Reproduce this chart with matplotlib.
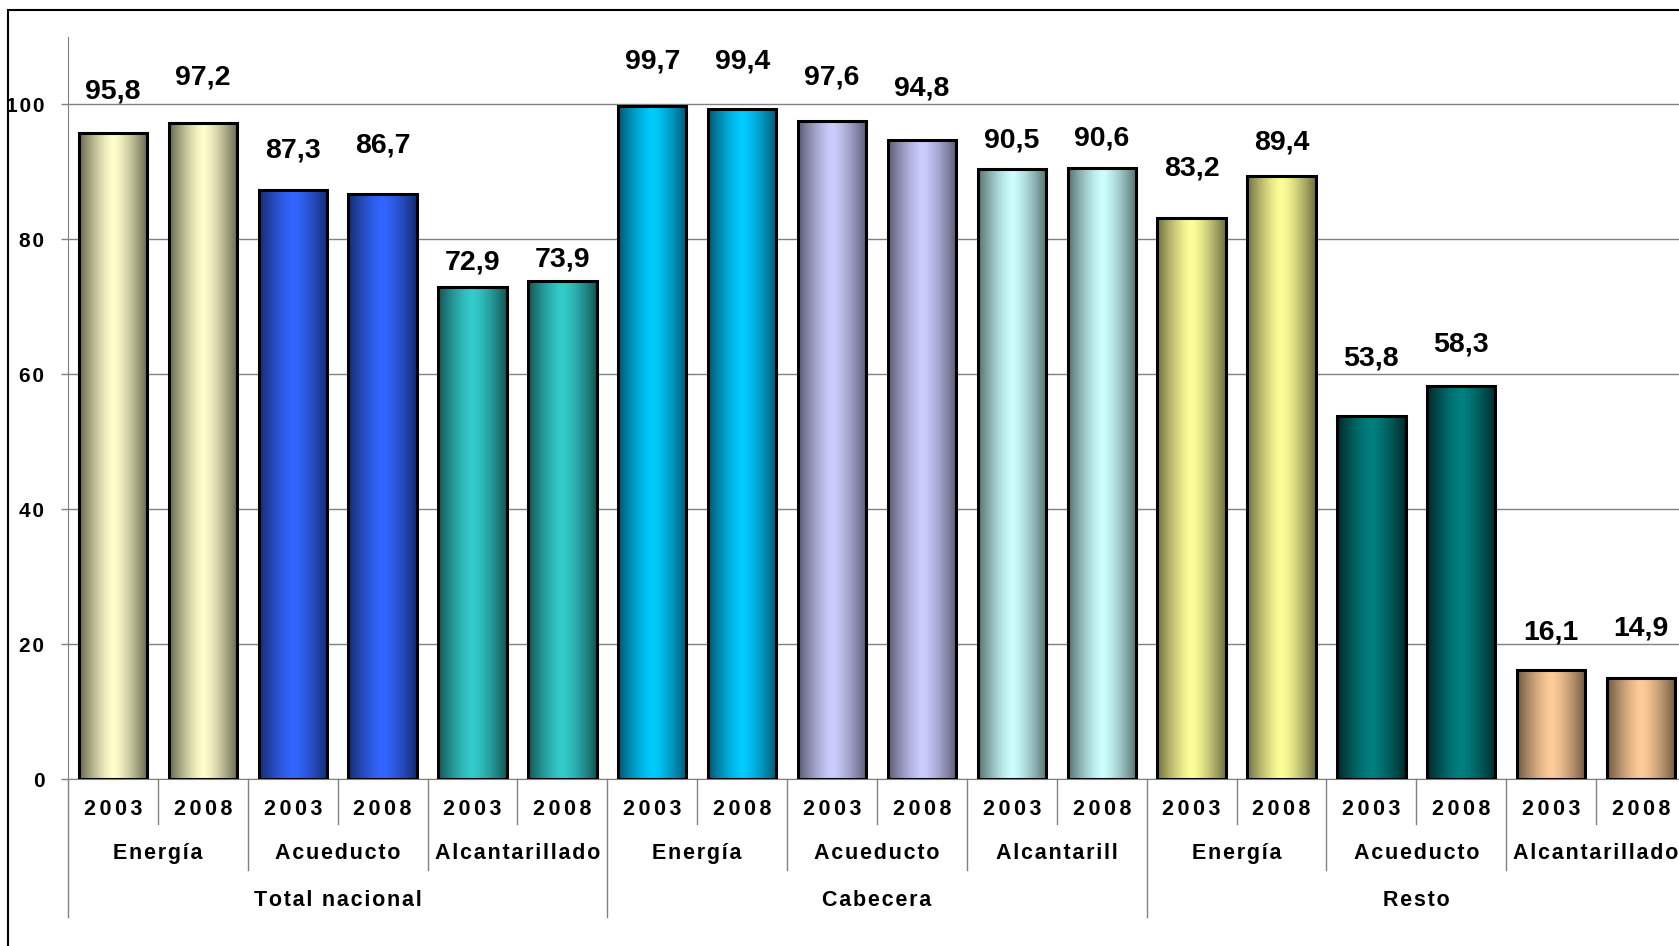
import numpy as np
import matplotlib
matplotlib.use('Agg')
import matplotlib.pyplot as plt
from matplotlib.colors import to_rgb
from matplotlib.patches import Rectangle
from matplotlib.transforms import blended_transform_factory

# datos
grupos = ['Total nacional', 'Cabecera', 'Resto']
servicios = ['Energía', 'Acueducto', 'Alcantarillado',
             'Energía', 'Acueducto', 'Alcantarill',
             'Energía', 'Acueducto', 'Alcantarillado']
anios = ['2003', '2008']
valores_2003 = [95.8, 87.3, 72.9, 99.7, 97.6, 90.5, 83.2, 53.8, 16.1]
valores_2008 = [97.2, 86.7, 73.9, 99.4, 94.8, 90.6, 89.4, 58.3, 14.9]

# estilo: color central / color de borde de cada servicio
colores = [('#FFFFCC', '#66664F'), ('#3366FF', '#142B70'), ('#33CCCC', '#155555'),
           ('#00CCFF', '#005570'), ('#CCCCFF', '#5A5A72'), ('#CCFFFF', '#577070'),
           ('#FFFF99', '#6E6E40'), ('#008080', '#002828'), ('#FFCC99', '#6E5840')]
# desplazamiento de las etiquetas sobre la barra (pixeles)
desfase = [41, 46, 40, 49, 25, 21, 45, 47, 43, 51, 28, 29, 49, 33, 58, 41, 38, 50]

plt.rcParams['font.family'] = ['Liberation Sans', 'DejaVu Sans']
plt.rcParams['font.weight'] = 'bold'

HAIR = '\u200a'


def espaciar(s, sep=HAIR):
    return sep.join(s)


W, H = 1679, 946
fig = plt.figure(figsize=(W / 100, H / 100), dpi=100)
ax = fig.add_axes([68 / W, 1 - 779 / H, 1618 / W, (779 - 37) / H])

valores = []
for v3, v8 in zip(valores_2003, valores_2008):
    valores += [v3, v8]
x = np.arange(len(valores))

bars = ax.bar(x, valores, width=0.76, facecolor='none', edgecolor='black',
              linewidth=2.2, zorder=3)

# relleno degradado tipo cilindro
u = np.linspace(0, 1, 128)
mezcla = np.clip(np.abs(u - 0.5) * 2, 0, 1) ** 1.4
for i, b in enumerate(bars):
    c1 = np.array(to_rgb(colores[i // 2][0]))
    c2 = np.array(to_rgb(colores[i // 2][1]))
    img = (c1[None, :] * (1 - mezcla[:, None]) + c2[None, :] * mezcla[:, None])[None, :, :]
    ax.imshow(img, extent=[b.get_x(), b.get_x() + b.get_width(), 0, b.get_height()],
              aspect='auto', zorder=2, interpolation='bilinear')

for b, v, off in zip(bars, valores, desfase):
    ax.annotate(f'{v:.1f}'.replace('.', ','),
                xy=(b.get_x() + b.get_width() / 2, b.get_height()),
                xytext=(0, off), textcoords='offset pixels',
                ha='center', va='center', fontsize=20.5, fontweight='bold')

ax.set_xlim(-0.5, len(valores) - 0.5)
ax.set_ylim(0, 110)
ax.set_xticks([])
ax.set_yticks([0, 20, 40, 60, 80, 100])
ax.set_yticklabels([espaciar(str(t)) for t in [0, 20, 40, 60, 80, 100]])
ax.tick_params(axis='y', direction='out', length=5, width=1, color='#808080',
               pad=12, labelsize=15)
ax.yaxis.grid(True, color='#808080', linewidth=1)
ax.set_axisbelow(True)
for s in ['top', 'right']:
    ax.spines[s].set_visible(False)
ax.spines['left'].set_color('#808080')
ax.spines['bottom'].set_color('#808080')

# ejes de categorias en varios niveles
trans = blended_transform_factory(ax.transData, fig.transFigure)
for k in range(len(valores) + 1):
    if k % 6 == 0:
        fondo = 917
    elif k % 2 == 0:
        fondo = 870
    else:
        fondo = 824
    ax.plot([k - 0.5, k - 0.5], [1 - 779 / H, 1 - fondo / H], transform=trans,
            color='#808080', linewidth=1, clip_on=False)

for i in range(len(valores)):
    ax.text(x[i], 1 - 815 / H, espaciar(anios[i % 2], HAIR * 2), transform=trans,
            ha='center', va='baseline', fontsize=15.5, fontweight='bold')
for j, s in enumerate(servicios):
    ax.text(2 * j + 0.5, 1 - 859 / H, espaciar(s), transform=trans,
            ha='center', va='baseline', fontsize=15.5, fontweight='bold')
for g, nombre in enumerate(grupos):
    ax.text(6 * g + 2.5, 1 - 906 / H, espaciar(nombre), transform=trans,
            ha='center', va='baseline', fontsize=15.5, fontweight='bold')

# marco del grafico
fig.add_artist(Rectangle((8 / W, -0.05), 1.1, 1 - 10 / H + 0.05, transform=fig.transFigure,
                         fill=False, edgecolor='black', linewidth=1.5))

fig.savefig('out.png', dpi=100)
